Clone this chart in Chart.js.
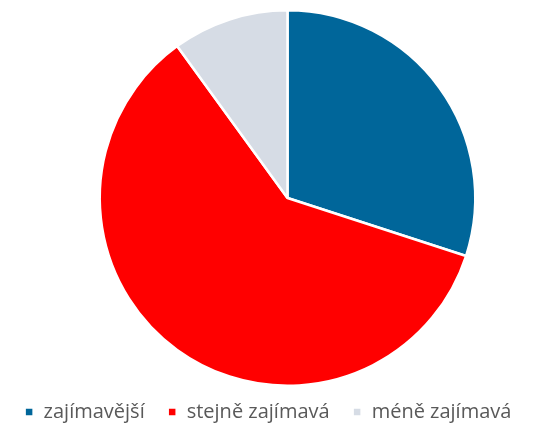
<!DOCTYPE html>
<html><head><meta charset="utf-8">
<script src="https://cdn.jsdelivr.net/npm/chart.js@4/dist/chart.umd.min.js"></script>
<style>html,body{margin:0;padding:0;background:#fff}#wrap{width:536px;height:423px;position:relative}</style>
</head><body><div id="wrap"><canvas id="c" width="536" height="423"></canvas></div>
<script>
const categories = ["zajímavější", "stejně zajímavá", "méně zajímavá"];
const values = [30, 60, 10];
const colors = ["#00669A", "#FF0000", "#D6DCE5"];

// place the pie square inside the plot region (offset from the centred legend)
const pieBox = {
  id: 'pieBox',
  afterLayout(chart) {
    const a = chart.chartArea;
    const size = 378;
    const cx = 287.5, top = 9;
    a.left = cx - size / 2; a.right = cx + size / 2;
    a.top = top; a.bottom = top + size;
    a.width = size; a.height = size;
  }
};

new Chart(document.getElementById('c'), {
  type: 'pie',
  data: {
    labels: categories,
    datasets: [{ data: values, backgroundColor: colors, borderColor: '#fff', borderWidth: 2.5, hoverOffset: 0 }]
  },
  options: {
    responsive: false,
    animation: false,
    layout: { padding: { bottom: -9 } },
    plugins: {
      tooltip: { enabled: false },
      legend: {
        position: 'bottom',
        labels: {
          boxWidth: 9, boxHeight: 9, padding: 23,
          color: '#595959',
          font: { family: "'Open Sans'", size: 20 }
        }
      }
    }
  },
  plugins: [pieBox]
});
</script></body></html>
